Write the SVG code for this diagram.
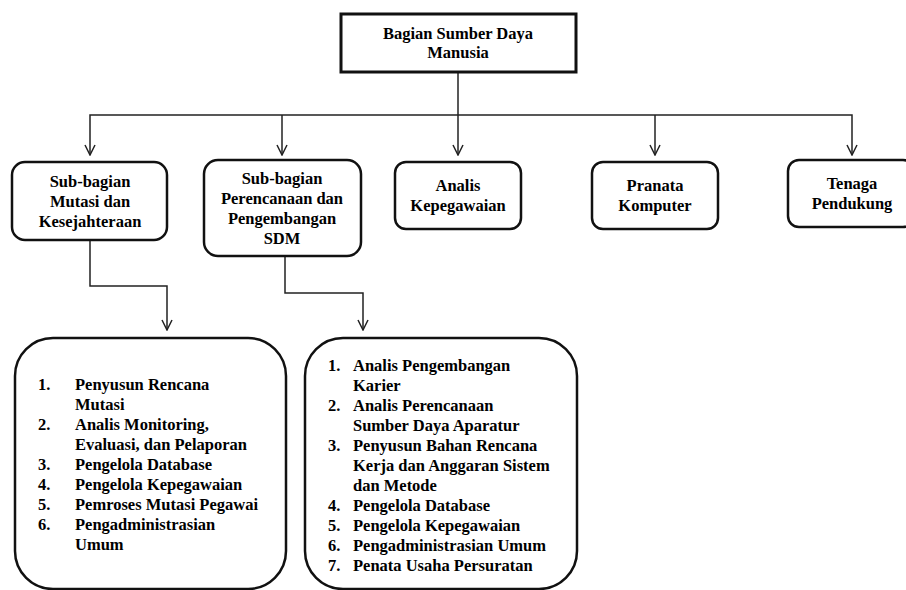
<svg xmlns="http://www.w3.org/2000/svg" width="906" height="590" viewBox="0 0 906 590">
<defs>
<marker id="ah" viewBox="0 0 12 12" refX="11" refY="6" markerWidth="12" markerHeight="12" markerUnits="userSpaceOnUse" orient="auto-start-reverse">
<path d="M1,1 L11,6 L1,11" fill="none" stroke="#222" stroke-width="1.5"/>
</marker>
</defs>
<rect width="906" height="590" fill="#fff"/>
<g id="connectors" fill="none" stroke="#222" stroke-width="1.5">
<path d="M458,72 V115"/>
<path d="M90,155 V115 H852 V155" marker-start="url(#ah)" marker-end="url(#ah)"/>
<path d="M282,115 V155" marker-end="url(#ah)"/>
<path d="M458,115 V155" marker-end="url(#ah)"/>
<path d="M655,115 V155" marker-end="url(#ah)"/>
<path d="M90,240 V286 H167 V330" marker-end="url(#ah)"/>
<path d="M285,256 V293 H363 V330" marker-end="url(#ah)"/>
</g>
<g fill="#fff" stroke="#111" stroke-width="2.5">
<rect id="box-top" x="341" y="14" width="235" height="58" stroke-width="3"/>
<rect id="box-mutasi" x="12" y="162" width="155" height="78" rx="13"/>
<rect id="box-perencanaan" x="204" y="160" width="157" height="96" rx="14"/>
<rect id="box-analis" x="395" y="162" width="126" height="67" rx="11"/>
<rect id="box-pranata" x="592" y="162" width="126" height="67" rx="11"/>
<rect id="box-tenaga" x="788" y="160" width="126" height="67" rx="11"/>
<rect id="box-list1" x="15" y="338" width="271" height="251" rx="38"/>
<rect id="box-list2" x="305" y="338" width="272" height="251" rx="38"/>
</g>
<g id="n-top" text-anchor="middle">
<text transform="translate(458,39) scale(.825)" font-family="Liberation Serif" font-weight="bold" font-size="20">Bagian Sumber Daya</text>
<text transform="translate(458,58) scale(.825)" font-family="Liberation Serif" font-weight="bold" font-size="20">Manusia</text>
</g>
<g id="n-mutasi" text-anchor="middle">
<text transform="translate(90,187) scale(.825)" font-family="Liberation Serif" font-weight="bold" font-size="20">Sub-bagian</text>
<text transform="translate(90,207) scale(.825)" font-family="Liberation Serif" font-weight="bold" font-size="20">Mutasi dan</text>
<text transform="translate(90,227) scale(.825)" font-family="Liberation Serif" font-weight="bold" font-size="20">Kesejahteraan</text>
</g>
<g id="n-perencanaan" text-anchor="middle">
<text transform="translate(282,184) scale(.825)" font-family="Liberation Serif" font-weight="bold" font-size="20">Sub-bagian</text>
<text transform="translate(282,204) scale(.825)" font-family="Liberation Serif" font-weight="bold" font-size="20">Perencanaan dan</text>
<text transform="translate(282,224) scale(.825)" font-family="Liberation Serif" font-weight="bold" font-size="20">Pengembangan</text>
<text transform="translate(282,244) scale(.825)" font-family="Liberation Serif" font-weight="bold" font-size="20">SDM</text>
</g>
<g id="n-analis" text-anchor="middle">
<text transform="translate(458,191) scale(.825)" font-family="Liberation Serif" font-weight="bold" font-size="20">Analis</text>
<text transform="translate(458,211) scale(.825)" font-family="Liberation Serif" font-weight="bold" font-size="20">Kepegawaian</text>
</g>
<g id="n-pranata" text-anchor="middle">
<text transform="translate(655,191) scale(.825)" font-family="Liberation Serif" font-weight="bold" font-size="20">Pranata</text>
<text transform="translate(655,211) scale(.825)" font-family="Liberation Serif" font-weight="bold" font-size="20">Komputer</text>
</g>
<g id="n-tenaga" text-anchor="middle">
<text transform="translate(852,189) scale(.825)" font-family="Liberation Serif" font-weight="bold" font-size="20">Tenaga</text>
<text transform="translate(852,209) scale(.825)" font-family="Liberation Serif" font-weight="bold" font-size="20">Pendukung</text>
</g>
<g id="n-list1">
<text transform="translate(38,390) scale(.825)" font-family="Liberation Serif" font-weight="bold" font-size="20">1.</text>
<text transform="translate(75,390) scale(.825)" font-family="Liberation Serif" font-weight="bold" font-size="20">Penyusun Rencana</text>
<text transform="translate(75,410) scale(.825)" font-family="Liberation Serif" font-weight="bold" font-size="20">Mutasi</text>
<text transform="translate(38,430) scale(.825)" font-family="Liberation Serif" font-weight="bold" font-size="20">2.</text>
<text transform="translate(75,430) scale(.825)" font-family="Liberation Serif" font-weight="bold" font-size="20">Analis Monitoring,</text>
<text transform="translate(75,450) scale(.825)" font-family="Liberation Serif" font-weight="bold" font-size="20">Evaluasi, dan Pelaporan</text>
<text transform="translate(38,470) scale(.825)" font-family="Liberation Serif" font-weight="bold" font-size="20">3.</text>
<text transform="translate(75,470) scale(.825)" font-family="Liberation Serif" font-weight="bold" font-size="20">Pengelola Database</text>
<text transform="translate(38,490) scale(.825)" font-family="Liberation Serif" font-weight="bold" font-size="20">4.</text>
<text transform="translate(75,490) scale(.825)" font-family="Liberation Serif" font-weight="bold" font-size="20">Pengelola Kepegawaian</text>
<text transform="translate(38,510) scale(.825)" font-family="Liberation Serif" font-weight="bold" font-size="20">5.</text>
<text transform="translate(75,510) scale(.825)" font-family="Liberation Serif" font-weight="bold" font-size="20">Pemroses Mutasi Pegawai</text>
<text transform="translate(38,530) scale(.825)" font-family="Liberation Serif" font-weight="bold" font-size="20">6.</text>
<text transform="translate(75,530) scale(.825)" font-family="Liberation Serif" font-weight="bold" font-size="20">Pengadministrasian</text>
<text transform="translate(75,550) scale(.825)" font-family="Liberation Serif" font-weight="bold" font-size="20">Umum</text>
</g>
<g id="n-list2">
<text transform="translate(328,371) scale(.825)" font-family="Liberation Serif" font-weight="bold" font-size="20">1.</text>
<text transform="translate(353,371) scale(.825)" font-family="Liberation Serif" font-weight="bold" font-size="20">Analis Pengembangan</text>
<text transform="translate(353,391) scale(.825)" font-family="Liberation Serif" font-weight="bold" font-size="20">Karier</text>
<text transform="translate(328,411) scale(.825)" font-family="Liberation Serif" font-weight="bold" font-size="20">2.</text>
<text transform="translate(353,411) scale(.825)" font-family="Liberation Serif" font-weight="bold" font-size="20">Analis Perencanaan</text>
<text transform="translate(353,431) scale(.825)" font-family="Liberation Serif" font-weight="bold" font-size="20">Sumber Daya Aparatur</text>
<text transform="translate(328,451) scale(.825)" font-family="Liberation Serif" font-weight="bold" font-size="20">3.</text>
<text transform="translate(353,451) scale(.825)" font-family="Liberation Serif" font-weight="bold" font-size="20">Penyusun Bahan Rencana</text>
<text transform="translate(353,471) scale(.825)" font-family="Liberation Serif" font-weight="bold" font-size="20">Kerja dan Anggaran Sistem</text>
<text transform="translate(353,491) scale(.825)" font-family="Liberation Serif" font-weight="bold" font-size="20">dan Metode</text>
<text transform="translate(328,511) scale(.825)" font-family="Liberation Serif" font-weight="bold" font-size="20">4.</text>
<text transform="translate(353,511) scale(.825)" font-family="Liberation Serif" font-weight="bold" font-size="20">Pengelola Database</text>
<text transform="translate(328,531) scale(.825)" font-family="Liberation Serif" font-weight="bold" font-size="20">5.</text>
<text transform="translate(353,531) scale(.825)" font-family="Liberation Serif" font-weight="bold" font-size="20">Pengelola Kepegawaian</text>
<text transform="translate(328,551) scale(.825)" font-family="Liberation Serif" font-weight="bold" font-size="20">6.</text>
<text transform="translate(353,551) scale(.825)" font-family="Liberation Serif" font-weight="bold" font-size="20">Pengadministrasian Umum</text>
<text transform="translate(328,571) scale(.825)" font-family="Liberation Serif" font-weight="bold" font-size="20">7.</text>
<text transform="translate(353,571) scale(.825)" font-family="Liberation Serif" font-weight="bold" font-size="20">Penata Usaha Persuratan</text>
</g>
</svg>
